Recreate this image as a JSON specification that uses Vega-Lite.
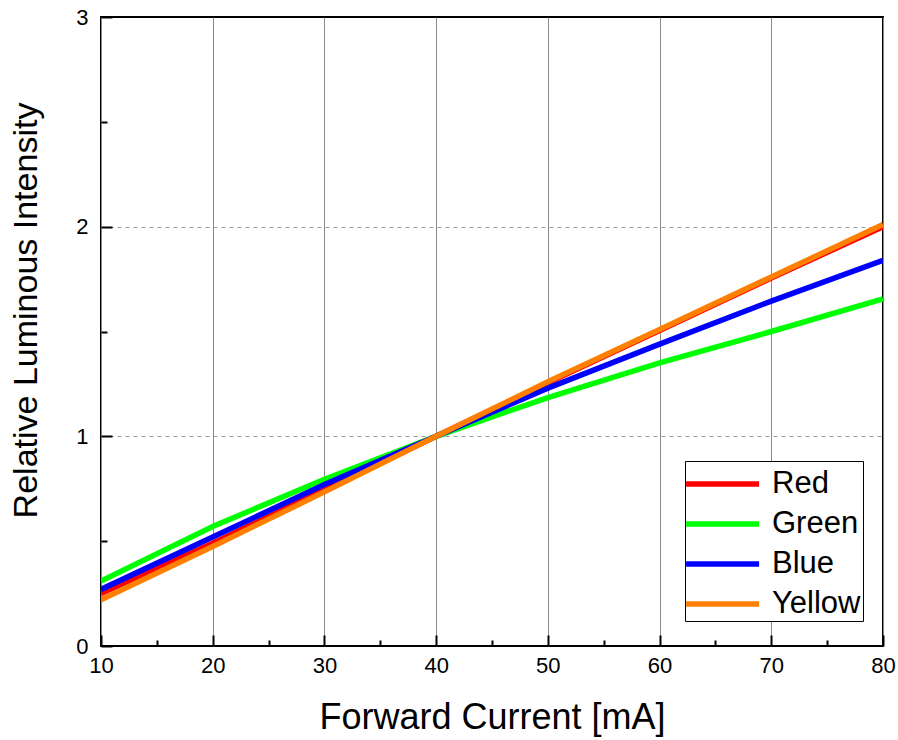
{
  "$schema": "https://vega.github.io/schema/vega-lite/v6.json",
  "width": 782,
  "height": 629,
  "autosize": {"type": "none"},
  "padding": {"left": 101, "top": 17, "right": 15, "bottom": 94},
  "background": "white",
  "config": {
    "font": "Liberation Sans",
    "view": {"stroke": "black", "strokeWidth": 2}
  },
  "data": {
    "values": [
      {"current": 10, "intensity": 0.25, "color": "Red"},
      {"current": 20, "intensity": 0.49, "color": "Red"},
      {"current": 30, "intensity": 0.745, "color": "Red"},
      {"current": 40, "intensity": 1.0, "color": "Red"},
      {"current": 50, "intensity": 1.255, "color": "Red"},
      {"current": 60, "intensity": 1.505, "color": "Red"},
      {"current": 70, "intensity": 1.755, "color": "Red"},
      {"current": 80, "intensity": 2.0, "color": "Red"},
      {"current": 10, "intensity": 0.31, "color": "Green"},
      {"current": 20, "intensity": 0.57, "color": "Green"},
      {"current": 30, "intensity": 0.795, "color": "Green"},
      {"current": 40, "intensity": 1.0, "color": "Green"},
      {"current": 50, "intensity": 1.185, "color": "Green"},
      {"current": 60, "intensity": 1.35, "color": "Green"},
      {"current": 70, "intensity": 1.5, "color": "Green"},
      {"current": 80, "intensity": 1.655, "color": "Green"},
      {"current": 10, "intensity": 0.27, "color": "Blue"},
      {"current": 20, "intensity": 0.52, "color": "Blue"},
      {"current": 30, "intensity": 0.77, "color": "Blue"},
      {"current": 40, "intensity": 1.0, "color": "Blue"},
      {"current": 50, "intensity": 1.23, "color": "Blue"},
      {"current": 60, "intensity": 1.44, "color": "Blue"},
      {"current": 70, "intensity": 1.645, "color": "Blue"},
      {"current": 80, "intensity": 1.84, "color": "Blue"},
      {"current": 10, "intensity": 0.22, "color": "Yellow"},
      {"current": 20, "intensity": 0.475, "color": "Yellow"},
      {"current": 30, "intensity": 0.735, "color": "Yellow"},
      {"current": 40, "intensity": 1.0, "color": "Yellow"},
      {"current": 50, "intensity": 1.26, "color": "Yellow"},
      {"current": 60, "intensity": 1.51, "color": "Yellow"},
      {"current": 70, "intensity": 1.76, "color": "Yellow"},
      {"current": 80, "intensity": 2.01, "color": "Yellow"}
    ]
  },
  "mark": {"type": "line", "strokeWidth": 5.5, "clip": true},
  "encoding": {
    "x": {
      "field": "current",
      "type": "quantitative",
      "scale": {"domain": [10, 80], "nice": false, "zero": false},
      "axis": {
        "title": "Forward Current [mA]",
        "titleFontSize": 36,
        "titleFontWeight": "normal",
        "titleColor": "black",
        "titlePadding": 24,
        "values": [10, 15, 20, 25, 30, 35, 40, 45, 50, 55, 60, 65, 70, 75, 80],
        "labelExpr": "datum.value % 10 === 0 ? format(datum.value, 'd') : ''",
        "labelFontSize": 22,
        "labelColor": "black",
        "labelPadding": 20,
        "labelFlush": false,
        "domain": false,
        "tickColor": "black",
        "tickWidth": 2,
        "tickSize": {"condition": {"test": "datum.value % 10 === 0", "value": -11}, "value": -6},
        "grid": true,
        "gridColor": "#888888",
        "gridWidth": 1,
        "gridOpacity": {"condition": {"test": "datum.value % 10 === 0", "value": 1}, "value": 0}
      }
    },
    "y": {
      "field": "intensity",
      "type": "quantitative",
      "scale": {"domain": [0, 3], "nice": false},
      "axis": {
        "title": "Relative Luminous Intensity",
        "titleFontSize": 34,
        "titleFontWeight": "normal",
        "titleColor": "black",
        "titlePadding": 32,
        "titleY": 293,
        "values": [0, 0.5, 1, 1.5, 2, 2.5, 3],
        "labelExpr": "datum.value % 1 === 0 ? format(datum.value, 'd') : ''",
        "labelFontSize": 22,
        "labelColor": "black",
        "labelPadding": 24,
        "labelFlush": false,
        "domain": false,
        "tickColor": "black",
        "tickWidth": 2,
        "tickSize": {"condition": {"test": "datum.value % 1 === 0", "value": -11}, "value": -6},
        "grid": true,
        "gridColor": "#999999",
        "gridDash": [4, 4],
        "gridWidth": 1,
        "gridOpacity": {"condition": {"test": "datum.value === 1 || datum.value === 2", "value": 1}, "value": 0}
      }
    },
    "color": {
      "field": "color",
      "type": "nominal",
      "sort": ["Red", "Green", "Blue", "Yellow"],
      "scale": {"domain": ["Red", "Green", "Blue", "Yellow"], "range": ["#ff0000", "#00ff00", "#0000ff", "#ff8000"]},
      "legend": {
        "title": null,
        "orient": "none",
        "legendX": 584,
        "legendY": 444,
        "symbolType": "M-1.2,0H2.8",
        "symbolSize": 1332,
        "symbolStrokeWidth": 5.5,
        "labelFontSize": 31,
        "labelColor": "black",
        "labelOffset": 43,
        "rowPadding": 4,
        "strokeColor": "black",
        "padding": 2,
        "fillColor": "white"
      }
    },
    "order": {"field": "color", "sort": "ascending"}
  }
}
